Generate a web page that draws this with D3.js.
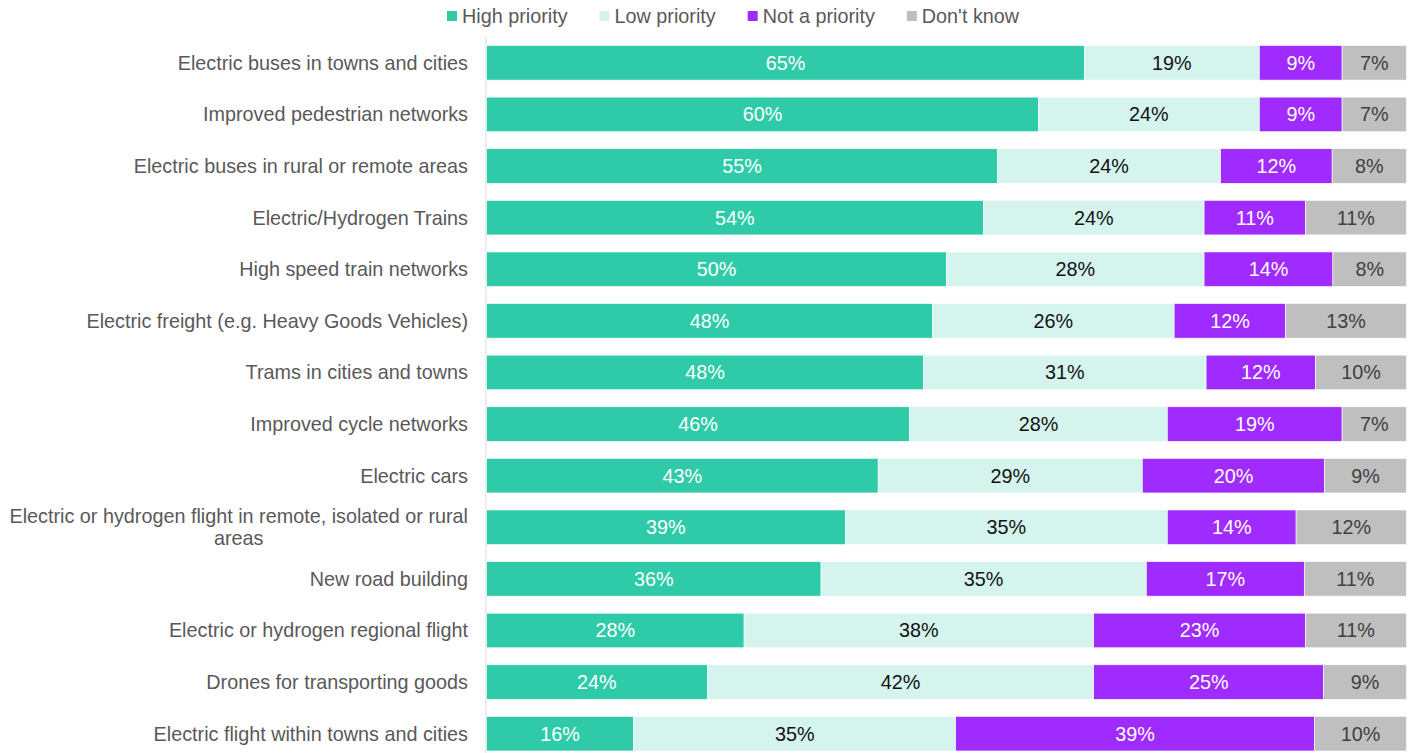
<!DOCTYPE html>
<html>
<head>
<meta charset="utf-8">
<script src="https://cdn.jsdelivr.net/npm/d3@7"></script>
<style>
  html, body { margin: 0; padding: 0; background: #fff; }
  svg { display: block; font-family: "Liberation Sans", Arial, sans-serif; }
</style>
</head>
<body>
<svg id="chart" width="1413" height="753"></svg>
<script>
// Transport options and how respondents rated them
const categories = [
  "Electric buses in towns and cities",
  "Improved pedestrian networks",
  "Electric buses in rural or remote areas",
  "Electric/Hydrogen Trains",
  "High speed train networks",
  "Electric freight (e.g. Heavy Goods Vehicles)",
  "Trams in cities and towns",
  "Improved cycle networks",
  "Electric cars",
  "Electric or hydrogen flight in remote, isolated or rural areas",
  "New road building",
  "Electric or hydrogen regional flight",
  "Drones for transporting goods",
  "Electric flight within towns and cities"
];
const seriesNames = ["High priority", "Low priority", "Not a priority", "Don't know"];
const highPriority = [65, 60, 55, 54, 50, 48, 48, 46, 43, 39, 36, 28, 24, 16];
const lowPriority  = [19, 24, 24, 24, 28, 26, 31, 28, 29, 35, 35, 38, 42, 35];
const notPriority  = [ 9,  9, 12, 11, 14, 12, 12, 19, 20, 14, 17, 23, 25, 39];
const dontKnow     = [ 7,  7,  8, 11,  8, 13, 10,  7,  9, 12, 11, 11,  9, 10];

const fills = ["#2FCBA8", "#D5F4EE", "#A02BFF", "#BFBFBF"];
const labelColors = ["#ffffff", "#111111", "#ffffff", "#404040"];
const fontSize = 19.8;

const rows = categories.map((c, i) => ({
  category: c,
  "High priority": highPriority[i],
  "Low priority": lowPriority[i],
  "Not a priority": notPriority[i],
  "Don't know": dontKnow[i]
}));

const stacked = d3.stack().keys(seriesNames).offset(d3.stackOffsetExpand)(rows);

const svg = d3.select("#chart");

const x = d3.scaleLinear().domain([0, 1]).range([486.5, 1406.5]);
const y = d3.scaleBand().domain(categories).range([28.5, 768]).paddingInner(0.33).paddingOuter(0.33);

// Category axis line
svg.append("line")
  .attr("x1", 486).attr("x2", 486)
  .attr("y1", 37).attr("y2", 753)
  .attr("stroke", "#d9d9d9").attr("stroke-width", 1);

// Bars
const layers = svg.append("g").selectAll("g")
  .data(stacked)
  .join("g")
  .attr("fill", (d, i) => fills[i]);

layers.selectAll("rect")
  .data(d => d.map(p => ({ p, key: d.key })))
  .join("rect")
  .attr("x", d => x(d.p[0]))
  .attr("width", d => x(d.p[1]) - x(d.p[0]))
  .attr("y", d => y(d.p.data.category))
  .attr("height", y.bandwidth())
  .attr("stroke", "#ffffff")
  .attr("stroke-width", 0.6);

// Value labels centred in each segment
stacked.forEach((layer, li) => {
  svg.append("g")
    .selectAll("text")
    .data(layer)
    .join("text")
    .attr("x", d => (x(d[0]) + x(d[1])) / 2)
    .attr("y", d => y(d.data.category) + y.bandwidth() / 2)
    .attr("dy", "0.35em")
    .attr("text-anchor", "middle")
    .attr("font-size", fontSize)
    .attr("fill", labelColors[li])
    .text(d => d.data[layer.key] + "%");
});

// Category labels, wrapped and centred when too long
const labelRight = 468;
const maxLabelWidth = 470;
const labelG = svg.append("g");
categories.forEach(cat => {
  const cy = y(cat) + y.bandwidth() / 2;
  const t = labelG.append("text")
    .attr("font-size", fontSize)
    .attr("fill", "#595959");
  const words = cat.split(" ");
  const lines = [];
  let line = [];
  const probe = t.append("tspan");
  words.forEach(w => {
    line.push(w);
    probe.text(line.join(" "));
    if (probe.node().getComputedTextLength() > maxLabelWidth && line.length > 1) {
      line.pop();
      lines.push(line.join(" "));
      line = [w];
    }
  });
  lines.push(line.join(" "));
  probe.remove();

  if (lines.length === 1) {
    t.attr("x", labelRight).attr("y", cy).attr("dy", "0.35em")
      .attr("text-anchor", "end").text(lines[0]);
  } else {
    const widths = lines.map(l => {
      const s = t.append("tspan").text(l);
      const w = s.node().getComputedTextLength();
      s.remove();
      return w;
    });
    const cx = labelRight - d3.max(widths) / 2;
    const lh = 22;
    t.attr("text-anchor", "middle");
    lines.forEach((l, i) => {
      t.append("tspan")
        .attr("x", cx)
        .attr("y", cy + (i - (lines.length - 1) / 2) * lh)
        .attr("dy", "0.35em")
        .text(l);
    });
  }
});

// Legend
const legend = svg.append("g");
let lx = 447;
seriesNames.forEach((name, i) => {
  legend.append("rect")
    .attr("x", lx).attr("y", 11)
    .attr("width", 10).attr("height", 10)
    .attr("fill", fills[i]);
  const txt = legend.append("text")
    .attr("x", lx + 15).attr("y", 16)
    .attr("dy", "0.35em")
    .attr("font-size", fontSize)
    .attr("fill", "#595959")
    .text(name);
  lx += 15 + txt.node().getComputedTextLength() + 32;
});
</script>
</body>
</html>
